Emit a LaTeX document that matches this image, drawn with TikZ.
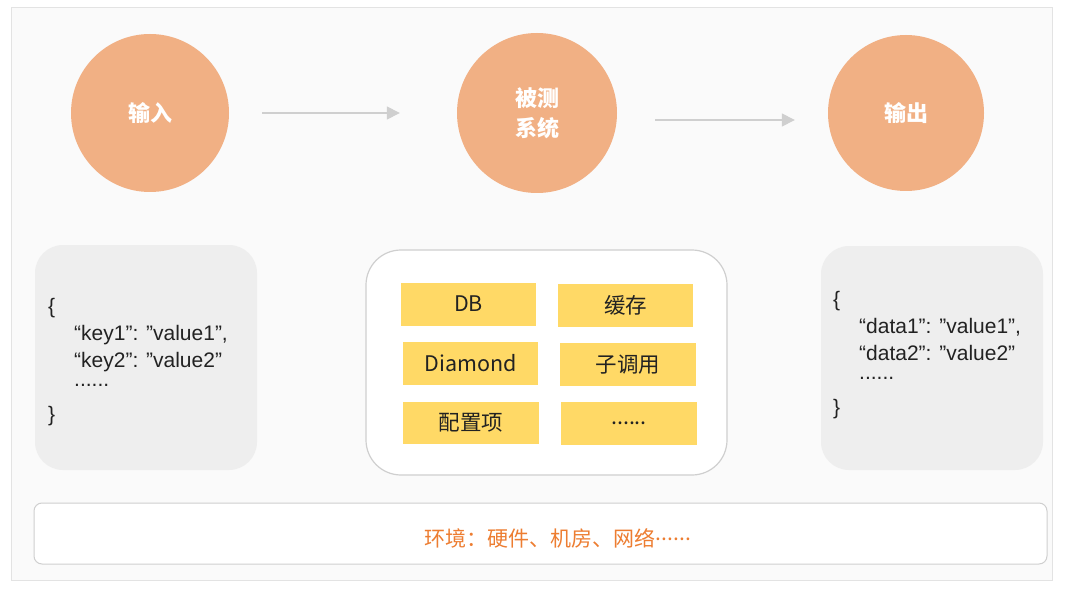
\documentclass[tikz,border=0pt]{standalone}
\usepackage{fontspec}
\setmainfont{Noto Sans CJK SC}
\newfontfamily\jsonfont{Liberation Sans}
\usetikzlibrary{arrows.meta}
\definecolor{circfill}{HTML}{F1B084}
\definecolor{framefill}{HTML}{FAFAFA}
\definecolor{frameline}{HTML}{E3E3E3}
\definecolor{jsonfill}{HTML}{EEEEEE}
\definecolor{boxline}{HTML}{CFCFCF}
\definecolor{yellowfill}{HTML}{FFD966}
\definecolor{arrowgray}{HTML}{CFCFCF}
\definecolor{envorange}{HTML}{ED7D31}
\definecolor{textdark}{HTML}{222222}
\tikzset{
  bubble/.style={circle, fill=circfill, inner sep=0pt, text=white,
    font=\fontsize{22}{30}\selectfont\bfseries, align=center},
  flowarrow/.style={draw=arrowgray, line width=1.5pt,
    -{Triangle[length=13pt,width=13pt,fill=arrowgray]}},
  jsonbox/.style={rectangle, rounded corners=28pt, fill=jsonfill, inner sep=0pt},
  jsontext/.style={anchor=base west, inner sep=0pt, align=left, text=textdark,
    font=\jsonfont\fontsize{21}{27}\selectfont},
  sysbox/.style={rectangle, rounded corners=35pt, fill=white, draw=boxline,
    line width=1.2pt, inner sep=0pt},
  itembox/.style={rectangle, fill=yellowfill, inner sep=0pt, text=textdark,
    font=\fontsize{21.5}{24}\selectfont, minimum width=135pt, minimum height=43pt},
  envbox/.style={rectangle, rounded corners=8pt, fill=white, draw=boxline,
    line width=1pt, inner sep=0pt},
}
\begin{document}
\begin{tikzpicture}[x=1pt,y=-1pt]
\useasboundingbox (0,0) rectangle (1080,591);
\fill[white] (0,0) rectangle (1080,591);
\draw[fill=framefill, draw=frameline, line width=1pt] (11,8) rectangle (1052,580);

% circles
\node[bubble, minimum size=158pt] (in) at (150,113) {输入};
\node[bubble, minimum size=160pt] (sys) at (537,113) {被测\\系统};
\node[bubble, minimum size=156pt] (out) at (906,113) {输出};

% arrows
\draw[flowarrow, shorten <=33pt, shorten >=57pt] (in) -- (sys);
\draw[flowarrow, shorten <=38pt, shorten >=33pt] ([yshift=-7pt]sys.east) -- ([yshift=-7pt]out.west);

% input json (anchor: baseline of the last line)
\node[jsonbox, minimum width=222pt, minimum height=225pt] (inbox) at (146,357.5) {};
\node[jsontext] (intext) at (48,421) {\{\\
\hspace*{26pt}“key1”: ”value1”,\\
\hspace*{26pt}“key2”: ”value2”\\
\hspace*{26pt}\raisebox{8pt}{......}\\
\}};

% output json
\node[jsonbox, minimum width=222pt, minimum height=224pt] (outbox) at (932,358) {};
\node[jsontext] (outtext) at (833,414) {\{\\
\hspace*{26pt}“data1”: ”value1”,\\
\hspace*{26pt}“data2”: ”value2”\\
\hspace*{26pt}\raisebox{8pt}{......}\\
\}};

% system container
\node[sysbox, minimum width=361pt, minimum height=225pt] (sysbox) at (546.5,362.5) {};
\node[itembox] (db) at (468.5,304) {DB};
\node[itembox] (cache) at (625.5,305) {缓存};
\node[itembox] (diamond) at (470.5,363.5) {Diamond};
\node[itembox, minimum width=136pt] (subcall) at (628,364.5) {子调用};
\node[itembox, minimum width=136pt, minimum height=42pt] (config) at (471,423) {配置项};
\node[itembox, minimum width=136pt] (more) at (629,423.5) {......};

% environment
\node[envbox, minimum width=1013pt, minimum height=61pt] (env) at (540.5,533.5) {};
\node[text=envorange, font=\fontsize{21}{25}\selectfont, inner sep=0pt] (envtext) at (558,538) {环境：硬件、机房、网络\raisebox{6pt}{......}};
\end{tikzpicture}
\end{document}
